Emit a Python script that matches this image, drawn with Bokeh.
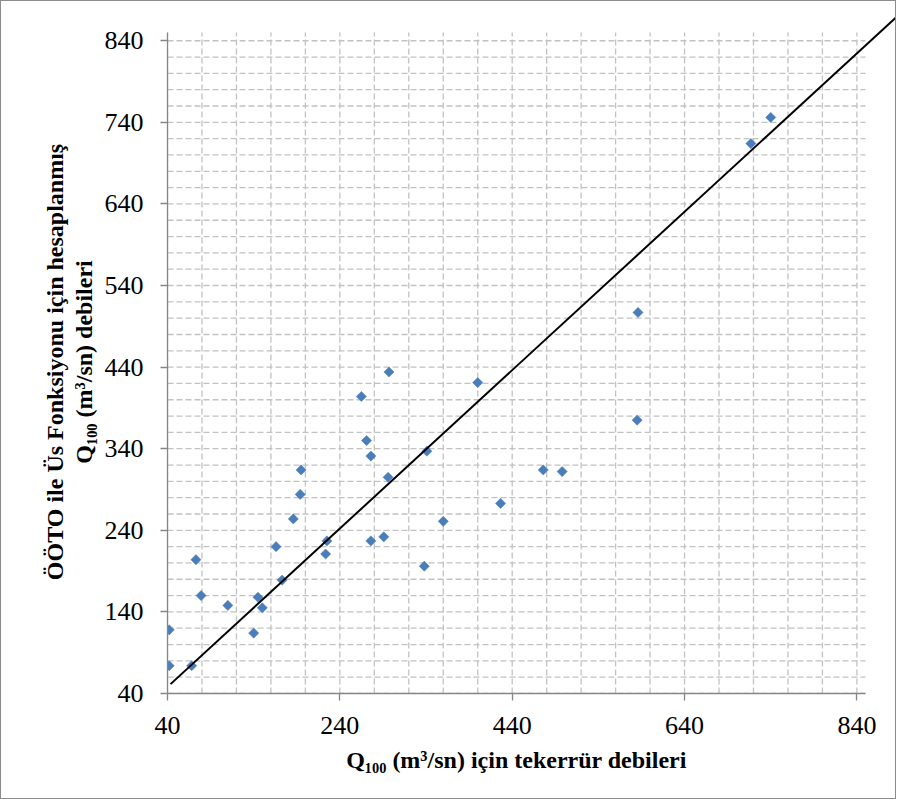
from math import pi
from bokeh.plotting import figure
from bokeh.models import ColumnDataSource, FixedTicker, Arrow, Range1d, LinearAxis
from bokeh.embed import file_html
from bokeh.resources import INLINE

# ---- data ----
tekerrur_q100 = [42, 42, 68, 73, 79, 110, 140, 145, 150, 173, 166, 186, 194, 195,
                 225, 223.5, 265, 271, 276, 276, 297, 296, 291, 338, 341, 360,
                 400, 426.5, 476, 498, 586, 585, 717, 740]
ooto_q100 = [74, 118, 74, 204, 160, 148, 114, 158, 145, 179, 220, 254, 284, 314,
             227, 211, 404, 350, 331, 227, 434, 305, 232, 196, 337, 251,
             421, 273, 314, 312, 507, 375, 714, 746]
line_x = [43.5, 890]
line_y = [51.5, 873]
axis_min, axis_max = 40, 850
x_ticks = [40, 240, 440, 640, 840]
y_ticks = [40, 140, 240, 340, 440, 540, 640, 740, 840]
x_grid = list(range(40, 841, 40))
y_grid = list(range(40, 841, 20))
x_title = "Q\u2081\u2080\u2080 (m\u00b3/sn) için tekerrür debileri"
y_title_1 = "ÖÖTO ile Üs Fonksiyonu için hesaplanmış"
y_title_2 = "Q\u2081\u2080\u2080 (m\u00b3/sn) debileri"

FONT = "Liberation Serif"
AXIS_GRAY = "#868686"
GRID_GRAY = "#c2c2c2"
NBSP = "\u00a0"

p = figure(frame_width=728, frame_height=681,
           x_range=Range1d(40, 884.8), y_range=Range1d(40, 874.6),
           output_backend="svg", toolbar_location=None,
           min_border_left=166, min_border_right=0,
           min_border_top=11, min_border_bottom=105,
           background_fill_color="white", border_fill_color="white")
p.outline_line_color = None
p.xgrid.visible = False
p.ygrid.visible = False
p.styles = {"border": "1px solid #8c8c8c"}

# dashed grid, limited to the axis extent
p.segment(x0=x_grid, y0=[axis_min] * len(x_grid), x1=x_grid, y1=[axis_max] * len(x_grid),
          line_color=GRID_GRAY, line_width=1.3, line_dash="6 3")
p.segment(x0=[axis_min] * len(y_grid), y0=y_grid, x1=[axis_max] * len(y_grid), y1=y_grid,
          line_color=GRID_GRAY, line_width=1.3, line_dash="6 3")

for ax, ticks in ((p.xaxis[0], x_ticks), (p.yaxis[0], y_ticks)):
    ax.ticker = FixedTicker(ticks=ticks)
    ax.bounds = (axis_min, axis_max)
    ax.axis_line_color = AXIS_GRAY
    ax.axis_line_width = 1.3
    ax.major_tick_line_color = AXIS_GRAY
    ax.major_tick_line_width = 1.3
    ax.major_tick_in = 0
    ax.major_tick_out = 7
    ax.minor_tick_line_color = None
    ax.major_label_text_font = FONT
    ax.major_label_text_font_size = "26px"
    ax.major_label_text_color = "black"
    ax.axis_label_text_font = FONT
    ax.axis_label_text_font_size = "24px"
    ax.axis_label_text_font_style = "bold"
    ax.axis_label_text_color = "black"
p.yaxis[0].major_label_standoff = 17
p.xaxis[0].major_label_standoff = 16
p.xaxis[0].axis_label = x_title + NBSP * 5
p.xaxis[0].axis_label_standoff = 10
p.yaxis[0].axis_label = y_title_2 + NBSP * 3
p.yaxis[0].axis_label_standoff = 5

outer = LinearAxis(ticker=FixedTicker(ticks=[]), bounds=(axis_min, axis_max),
                   axis_line_color=None, major_tick_line_color=None,
                   minor_tick_line_color=None, major_label_text_font_size="0px",
                   major_label_standoff=0, major_tick_out=0, major_tick_in=0,
                   axis_label=y_title_1 + NBSP * 3, axis_label_standoff=0,
                   axis_label_text_font=FONT, axis_label_text_font_size="24px",
                   axis_label_text_font_style="bold", axis_label_text_color="black")
p.add_layout(outer, "left")

src = ColumnDataSource(dict(x=tekerrur_q100, y=ooto_q100))
p.scatter("x", "y", source=src, marker="square", size=7.2, angle=pi / 4,
          fill_color="#4a7ebb", line_color="#4a7ebb", line_width=0.5)

p.add_layout(Arrow(end=None, x_start=line_x[0], y_start=line_y[0],
                   x_end=line_x[1], y_end=line_y[1],
                   line_color="black", line_width=2))

open("out.html", "w").write(file_html(p, INLINE))
